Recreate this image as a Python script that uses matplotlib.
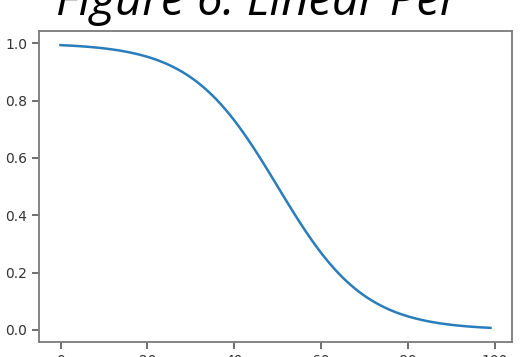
import matplotlib
matplotlib.use("Agg")
import matplotlib.pyplot as plt

# x positions (index 0..99)
x_values = list(range(100))
# y values
y_values = [
    0.9933, 0.9926, 0.9918, 0.9910, 0.9901, 0.9890, 0.9879, 0.9866, 0.9852, 0.9837,
    0.9820, 0.9802, 0.9781, 0.9759, 0.9734, 0.9707, 0.9677, 0.9644, 0.9608, 0.9569,
    0.9526, 0.9479, 0.9427, 0.9370, 0.9309, 0.9241, 0.9168, 0.9089, 0.9003, 0.8909,
    0.8808, 0.8699, 0.8582, 0.8455, 0.8320, 0.8176, 0.8022, 0.7858, 0.7685, 0.7503,
    0.7311, 0.7110, 0.6900, 0.6682, 0.6457, 0.6225, 0.5987, 0.5744, 0.5498, 0.5250,
    0.5000, 0.4750, 0.4502, 0.4256, 0.4013, 0.3775, 0.3543, 0.3318, 0.3100, 0.2891,
    0.2689, 0.2497, 0.2315, 0.2142, 0.1978, 0.1824, 0.1680, 0.1545, 0.1419, 0.1301,
    0.1192, 0.1091, 0.0998, 0.0911, 0.0832, 0.0759, 0.0691, 0.0630, 0.0573, 0.0522,
    0.0474, 0.0431, 0.0392, 0.0356, 0.0323, 0.0293, 0.0266, 0.0241, 0.0219, 0.0198,
    0.0180, 0.0163, 0.0148, 0.0134, 0.0121, 0.0110, 0.0100, 0.0090, 0.0082, 0.0074,
]
title_text = "Figure 6: Linear Per"

fig = plt.figure(figsize=(5.27, 3.57), dpi=100)
ax = fig.add_axes([39/527, 1 - 342/357, (512 - 39)/527, (342 - 31)/357])
ax.plot(x_values, y_values, color="#2a7cbb", linewidth=1.8)
ax.set_xticks([0, 20, 40, 60, 80, 100])
ax.set_yticks([0.0, 0.2, 0.4, 0.6, 0.8, 1.0])
ax.set_yticklabels(["0.0", "0.2", "0.4", "0.6", "0.8", "1.0"])
for s in ax.spines.values():
    s.set_color("#7a7a7a")
    s.set_linewidth(1.3)
ax.tick_params(labelsize=10, length=4.9, width=1.2, color="#555555", labelcolor="#333333")
for lab in ax.get_xticklabels() + ax.get_yticklabels():
    lab.set_family("DejaVu Sans")

fig.text(257/527, 1 - 15/357, title_text, fontsize=34, style="italic",
         family="Open Sans", ha="center", va="baseline", color="black")

fig.savefig("out.png", dpi=100)
